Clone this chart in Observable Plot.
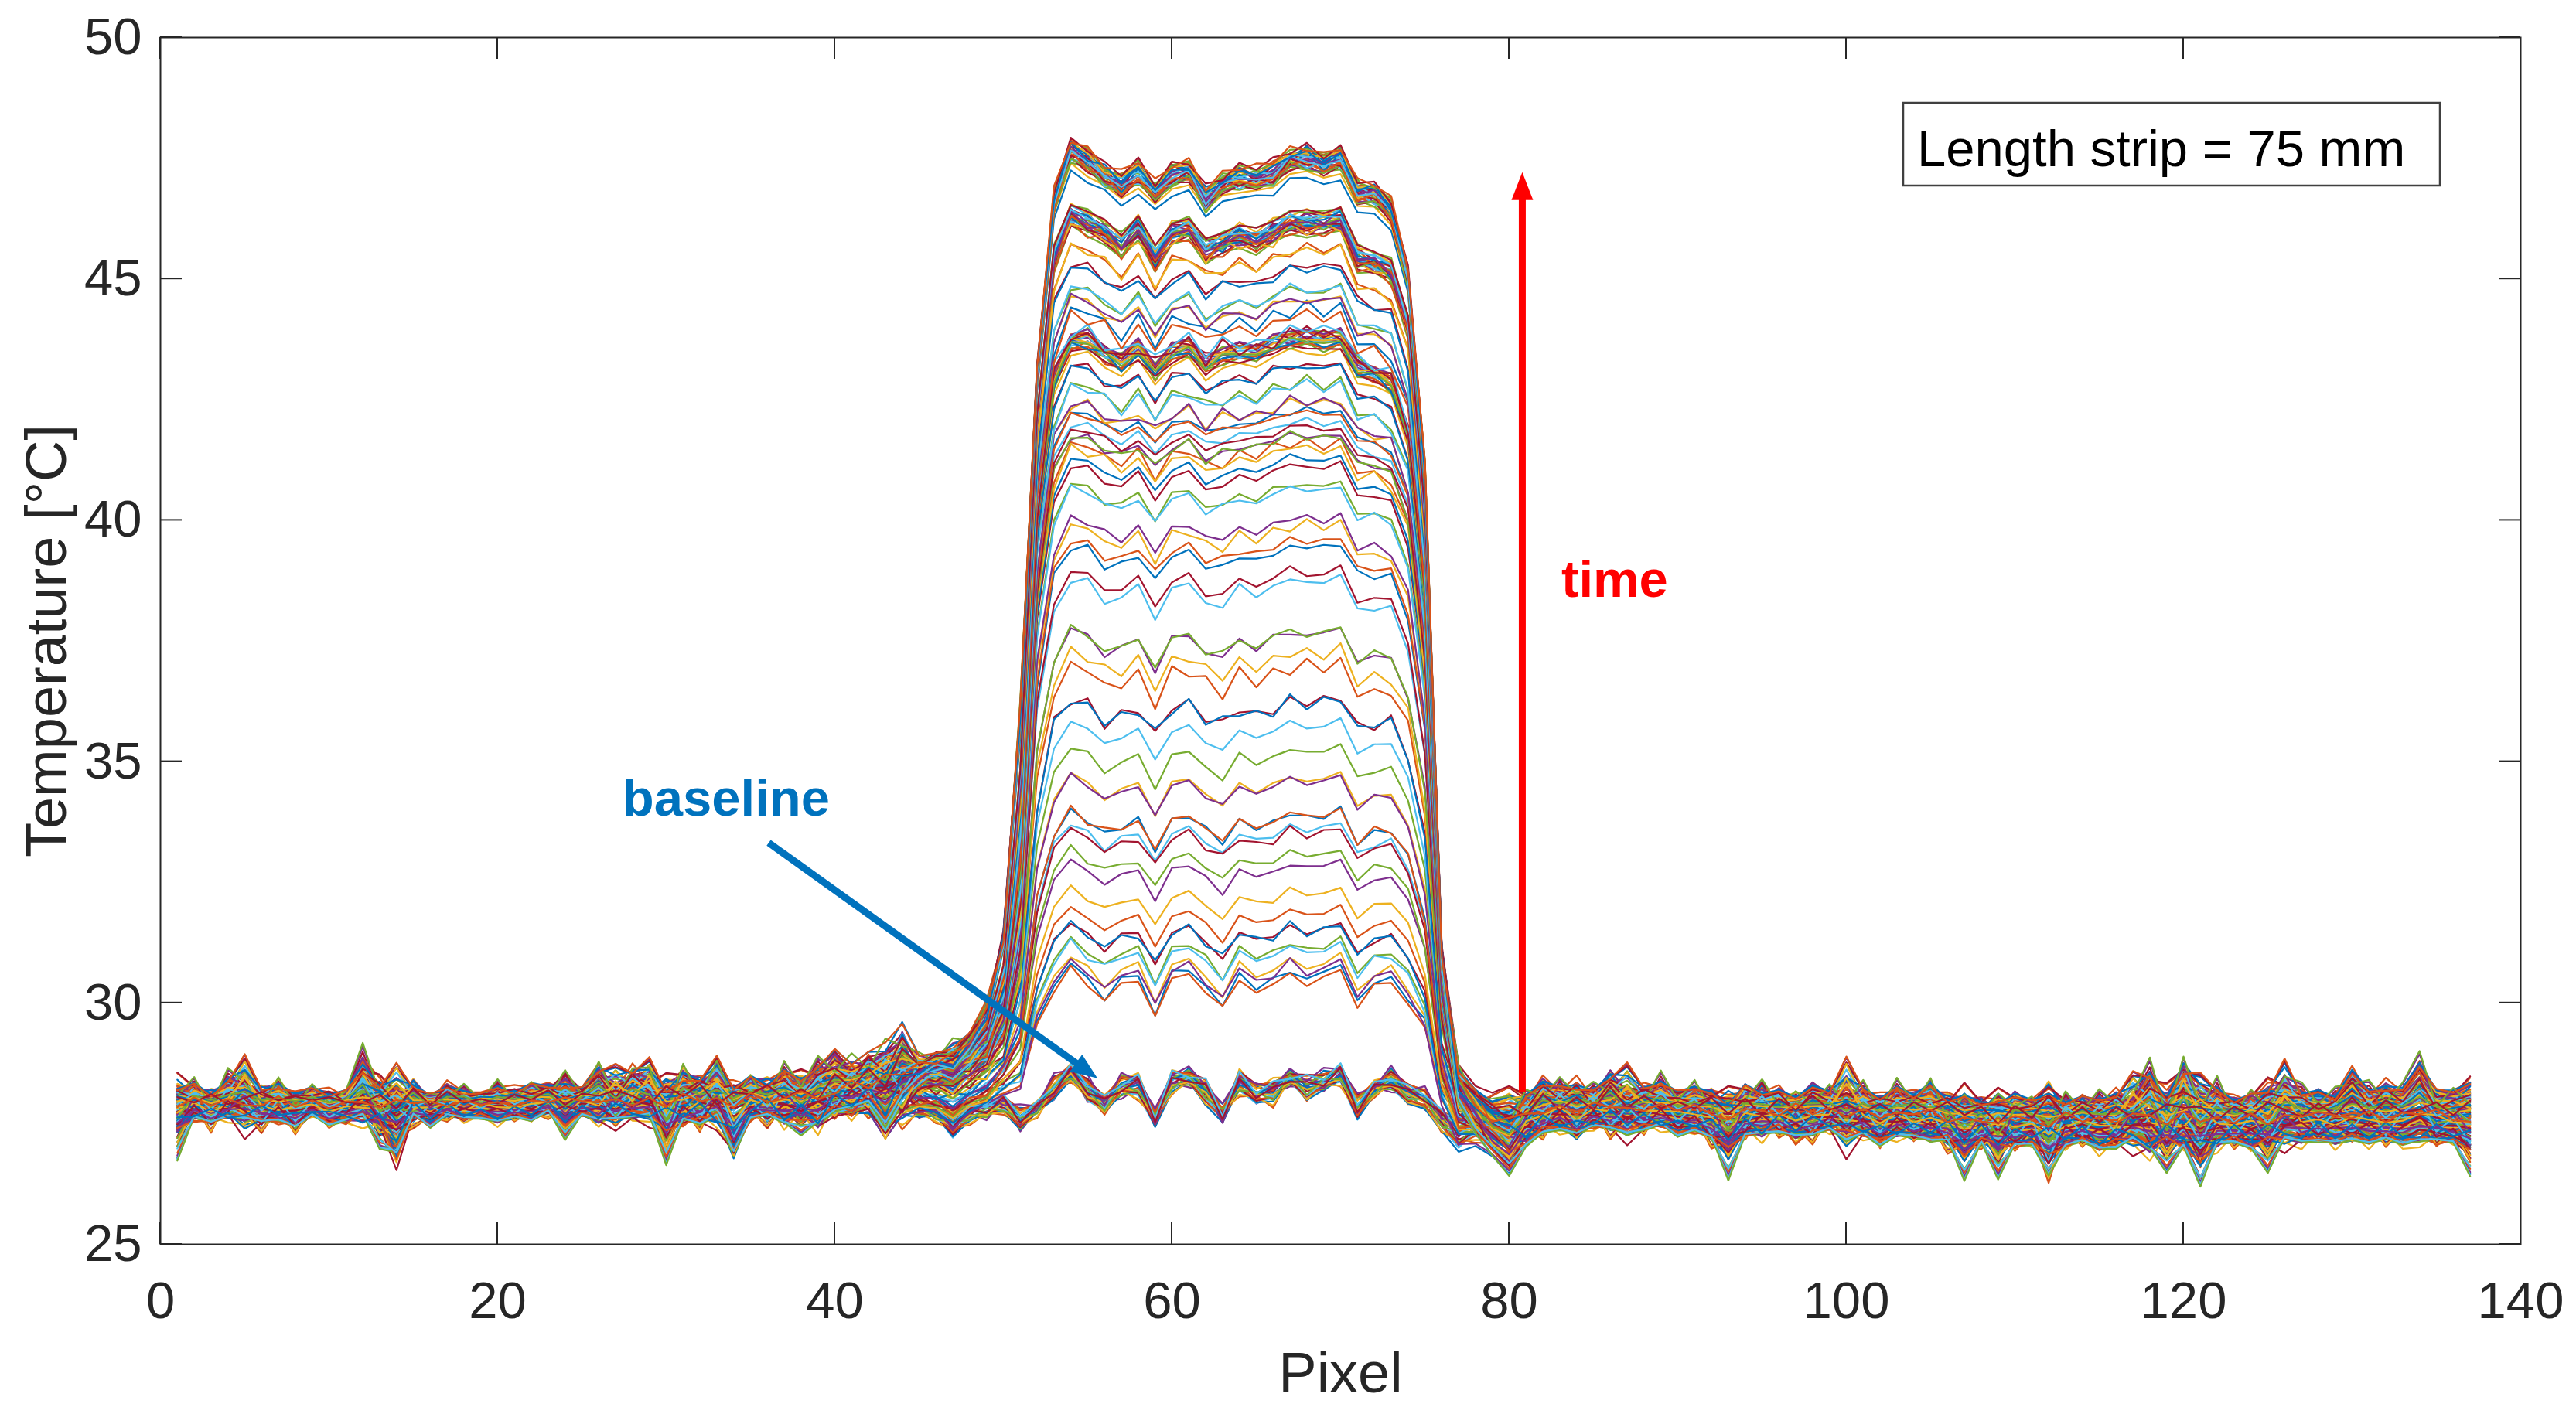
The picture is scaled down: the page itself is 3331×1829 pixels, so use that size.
<!DOCTYPE html>
<html>
<head>
<meta charset="utf-8">
<script src="https://cdn.jsdelivr.net/npm/d3@7"></script>
<script src="https://cdn.jsdelivr.net/npm/@observablehq/plot@0.6"></script>
<style>html,body{margin:0;padding:0;background:#fff;overflow:hidden}</style>
</head>
<body>
<div id="chart"></div>
<script>
// ---------- data ----------
const xTicks = [0, 20, 40, 60, 80, 100, 120, 140];
const yTicks = [25, 30, 35, 40, 45, 50];
const pixels = d3.range(1, 138); // pixel index 1..137

// centre of the background band (and baseline curve inside the heated zone), pixels 1..137
const bandCenter = [
  27.9, 27.95, 27.9, 27.95, 28.0, 27.9, 27.95, 27.9, 27.95, 27.9,
  27.9, 28.0, 27.95, 27.9, 27.95, 27.9, 27.95, 27.95, 27.95, 27.95,
  27.95, 27.95, 28.0, 27.95, 28.0, 28.0, 27.95, 28.0, 28.0, 27.9,
  28.0, 28.05, 28.0, 27.95, 28.05, 28.0, 28.05, 28.05, 28.1, 28.1,
  28.1, 28.1, 28.15, 28.1, 27.85, 27.71, 27.5, 27.71, 27.82, 27.92,
  27.6, 27.82, 28.24, 28.56, 28.19, 27.92, 28.29, 28.35, 27.6, 28.35,
  28.45, 28.19, 27.66, 28.35, 28.13, 28.19, 28.45, 28.24, 28.35, 28.56,
  27.82, 28.24, 28.4, 28.13, 28.03, 27.6, 27.34, 27.6, 27.55, 27.5,
  27.65, 27.8, 27.85, 27.8, 27.85, 27.9, 27.8, 27.85, 27.85, 27.8,
  27.8, 27.75, 27.7, 27.75, 27.8, 27.75, 27.8, 27.75, 27.8, 27.75,
  27.75, 27.7, 27.7, 27.75, 27.7, 27.65, 27.6, 27.6, 27.6, 27.6,
  27.6, 27.55, 27.65, 27.6, 27.6, 27.6, 27.65, 27.7, 27.6, 27.65,
  27.6, 27.6, 27.6, 27.65, 27.6, 27.65, 27.7, 27.65, 27.7, 27.7,
  27.7, 27.65, 27.7, 27.75, 27.7, 27.6, 27.6
];

// upper and lower strands of the noisy band (deviation from bandCenter), pixels 1..137
const devA = [
  0.3, 0.35, 0.2, 0.45, 0.3, 0.25, 0.4, 0.15, 0.3, 0.2,
  0.25, 0.75, 0.3, 0.2, 0.35, 0.15, 0.3, 0.25, 0.1, 0.3,
  0.2, 0.35, 0.25, 0.4, 0.2, 0.65, 0.3, 0.55, 0.35, 0.25,
  0.6, 0.3, 0.45, 0.25, 0.4, 0.3, 0.5, 0.35, 0.45, 0.75,
  0.4, 0.55, 0.35, 0.9, 0.2, 0.1, 0.25, 0.15, 0.2, 0.1,
  0.22, 0.12, 0.2, 0.15, 0.25, 0.1, 0.2, 0.15, 0.1, 0.25,
  0.15, 0.2, 0.1, 0.25, 0.15, 0.2, 0.1, 0.25, 0.2, 0.15,
  0.25, 0.1, 0.2, 0.15, 0.2, 0.1, 0.25, 0.25, 0.3, 0.45,
  0.4, 0.55, 0.35, 0.5, 0.3, 0.6, 0.4, 0.35, 0.5, 0.3,
  0.45, 0.35, 0.2, 0.5, 0.3, 0.4, 0.25, 0.5, 0.35, 0.3,
  0.45, 0.3, 0.5, 0.35, 0.6, 0.3, 0.45, 0.35, 0.25, 0.5,
  0.35, 0.55, 0.3, 0.4, 0.35, 0.5, 0.3, 0.8, 0.4, 1.1,
  0.45, 0.6, 0.35, 0.4, 0.55, 0.75, 0.4, 0.5, 0.35, 0.85,
  0.45, 0.6, 0.5, 0.95, 0.4, 0.55, 0.65
];
const devB = [
  -0.55, -0.3, -0.4, -0.25, -0.45, -0.35, -0.3, -0.5, -0.25, -0.4,
  -0.35, -0.3, -0.5, -1.05, -0.3, -0.4, -0.25, -0.35, -0.3, -0.4,
  -0.3, -0.35, -0.25, -0.4, -0.3, -0.45, -0.3, -0.35, -0.25, -0.6,
  -0.4, -0.5, -0.35, -1.1, -0.4, -0.3, -0.5, -0.35, -0.6, -0.3,
  -0.45, -0.35, -0.8, -0.5, -0.2, -0.12, -0.25, -0.15, -0.2, -0.1,
  -0.25, -0.15, -0.2, -0.12, -0.25, -0.1, -0.2, -0.3, -0.12, -0.2,
  -0.15, -0.25, -0.1, -0.2, -0.15, -0.25, -0.12, -0.2, -0.15, -0.25,
  -0.2, -0.1, -0.2, -0.15, -0.25, -0.2, -0.3, -0.35, -0.3, -0.45,
  -0.5, -0.45, -0.4, -0.55, -0.35, -0.5, -0.4, -0.45, -0.35, -0.5,
  -0.4, -0.55, -0.8, -0.45, -0.5, -0.35, -0.6, -0.45, -0.4, -0.5,
  -0.45, -0.6, -0.4, -0.55, -0.45, -0.5, -0.75, -0.45, -0.6, -0.55,
  -0.5, -0.8, -0.55, -0.45, -0.6, -0.5, -0.45, -0.7, -0.5, -0.55,
  -0.95, -0.5, -0.45, -0.6, -0.5, -0.45, -0.55, -0.4, -0.6, -0.5,
  -0.55, -0.45, -0.6, -0.5, -0.55, -0.45, -0.7
];
// zig-zag strands of the band, pixels 1..137
const devC = [
  -0.1, 0.2, -0.25, 0.3, 0.1, -0.3, 0.15, -0.2, 0.1, -0.15,
  0.05, 0.5, -0.1, 0.25, -0.3, 0.1, -0.2, 0.15, -0.05, 0.2,
  -0.15, 0.1, -0.2, 0.3, -0.1, 0.2, -0.25, 0.15, 0.35, -0.5,
  0.2, -0.3, 0.4, -0.2, 0.1, -0.35, 0.3, -0.1, 0.4, -0.25,
  0.3, -0.2, 0.5, -0.3, 0.1, -0.1, 0.15, -0.12, 0.08, -0.15,
  0.12, -0.08, 0.15, -0.1, 0.12, -0.15, 0.1, -0.12, 0.15, -0.08,
  0.12, -0.1, 0.2, -0.12, 0.08, -0.15, 0.12, -0.1, 0.15, -0.08,
  0.1, -0.12, 0.15, -0.1, 0.08, -0.12, 0.1, -0.2, -0.2, -0.4,
  0.2, -0.25, 0.3, -0.15, 0.25, -0.3, 0.15, -0.2, 0.3, -0.1,
  0.2, -0.3, 0.1, -0.2, 0.35, -0.25, 0.15, -0.3, 0.2, -0.1,
  0.25, -0.2, 0.3, -0.15, 0.2, -0.35, 0.1, -0.25, 0.3, -0.2,
  0.15, -0.6, 0.25, -0.2, 0.3, -0.15, 0.2, 0.45, -0.3, 0.25,
  -0.2, 0.35, -0.25, 0.2, -0.3, 0.15, 0.3, -0.2, 0.25, -0.15,
  0.3, -0.25, 0.2, 0.4, -0.2, 0.15, -0.3
];
const devD = [
  0.1, -0.15, 0.05, -0.1, 0.2, 0.05, -0.2, 0.1, -0.05, 0.15,
  -0.1, 0.1, 0.2, -0.15, 0.05, -0.1, 0.15, -0.05, 0.1, 0.0,
  0.15, -0.05, 0.1, -0.15, 0.05, 0.1, -0.1, 0.2, -0.05, 0.1,
  -0.2, 0.15, -0.05, 0.2, -0.15, 0.1, 0.05, -0.2, 0.15, 0.05,
  -0.15, 0.2, -0.1, 0.15, -0.1, 0.12, -0.08, 0.1, -0.12, 0.15,
  -0.1, 0.08, -0.12, 0.1, -0.08, 0.12, -0.15, 0.1, -0.08, 0.12,
  -0.1, 0.15, -0.08, 0.1, -0.12, 0.08, -0.1, 0.15, -0.08, 0.12,
  -0.1, 0.08, -0.12, 0.1, -0.08, 0.15, -0.1, 0.08, 0.1, -0.2,
  -0.1, 0.15, -0.05, 0.2, -0.15, 0.1, -0.05, 0.15, -0.1, 0.05,
  -0.15, 0.1, 0.2, -0.1, 0.05, 0.15, -0.2, 0.1, -0.05, 0.2,
  -0.1, 0.15, -0.05, 0.1, -0.15, 0.2, -0.05, 0.1, 0.15, -0.1,
  0.05, 0.2, -0.15, 0.1, -0.05, 0.15, -0.1, 0.05, 0.2, -0.15,
  0.1, -0.05, 0.15, -0.1, 0.2, -0.05, 0.1, -0.15, 0.05, 0.15,
  -0.1, 0.2, -0.05, 0.1, -0.15, 0.05, 0.1
];
const devE = [
  0.05, 0.1, 0.0, 0.05, 0.7, 0.1, -0.05, 0.15, 0.05, 0.0,
  0.1, -0.05, 0.05, 0.7, 0.0, 0.1, 0.05, -0.05, 0.1, 0.05,
  0.0, 0.1, 0.05, -0.05, 0.1, 0.05, 0.55, 0.1, 0.6, 0.05,
  -0.1, 0.1, 0.55, 0.05, 0.1, 0.0, 0.15, 0.05, 0.2, 0.3,
  0.1, 0.2, 0.45, 0.25, 0.04, 0.08, -0.04, 0.06, 0.1, -0.06,
  0.04, 0.08, -0.04, 0.12, 0.04, -0.06, 0.08, 0.04, -0.04, 0.1,
  0.06, -0.04, 0.08, 0.04, -0.06, 0.1, 0.04, -0.04, 0.08, 0.06,
  -0.04, 0.1, 0.04, -0.06, 0.08, 0.04, -0.04, 0.1, -0.4, -0.5,
  0.1, 0.05, 0.15, 0.0, 0.1, 0.05, 0.65, 0.1, 0.05, 0.15,
  0.05, 0.1, 0.0, 0.15, 0.05, 0.1, 0.0, 0.1, 0.05, 0.9,
  0.1, 0.05, 0.15, 0.0, 0.1, 0.05, 0.1, 0.0, 0.15, 0.05,
  0.1, 0.05, 0.0, 0.15, 0.1, 0.05, 0.7, 0.1, 0.05, 0.0,
  0.6, 0.1, 0.05, 0.15, 0.1, 0.6, 0.05, 0.1, 0.0, 0.15,
  0.1, 0.05, 0.1, 0.15, 0.2, 0.1, 0.2
];
const devF = [
  -0.7, -0.05, 0.0, -0.1, 0.05, -0.05, -0.15, 0.0, -0.05, -0.1,
  0.0, -0.05, -0.55, -0.1, 0.05, -0.15, -0.05, 0.0, -0.1, -0.05,
  -0.05, -0.1, 0.0, -0.45, -0.05, 0.0, -0.1, -0.05, -0.1, -0.75,
  -0.05, -0.15, 0.0, -0.05, -0.1, -0.05, -0.1, -0.5, -0.05, -0.15,
  -0.05, -0.1, -0.35, -0.05, -0.06, 0.04, -0.08, -0.04, 0.06, -0.1,
  -0.04, 0.04, -0.08, -0.06, 0.04, -0.1, -0.04, 0.06, -0.08, -0.04,
  0.04, -0.12, -0.06, 0.04, -0.08, -0.04, 0.06, -0.1, -0.04, 0.04,
  -0.08, -0.06, 0.04, -0.1, -0.04, -0.1, -0.2, -0.3, -0.5, -0.7,
  -0.2, -0.1, -0.15, 0.0, -0.1, -0.05, -0.2, -0.1, -0.05, -0.15,
  -0.1, -0.05, -0.7, -0.1, -0.05, -0.15, 0.0, -0.1, -0.05, -0.2,
  -0.05, -0.15, -0.1, 0.0, -0.2, -0.05, -0.65, -0.1, -0.75, -0.05,
  -0.1, -0.45, -0.15, -0.05, -0.1, -0.2, -0.05, -0.1, -0.7, -0.15,
  -0.6, -0.05, -0.1, -0.15, -0.7, -0.05, -0.1, -0.2, -0.05, -0.1,
  -0.15, -0.05, -0.1, -0.2, -0.05, -0.1, -0.6
];

// heated-zone profiles, pixels 40..80, read from the three dense clusters
const zoneStart = 40;
const topZone = [
  28.15, 28.3, 28.35, 28.45, 28.6, 28.7, 28.8, 28.9, 29.2, 29.8,
  31.3, 36.0, 43.0, 46.6, 47.62, 47.43, 47.11, 46.93, 47.2, 46.77,
  47.11, 47.19, 46.66, 46.93, 47.06, 47.06, 47.17, 47.43, 47.48, 47.32,
  47.48, 46.77, 46.72, 46.4, 45.0, 41.0, 31.0, 28.4, 27.9, 27.6,
  27.5
];
const secondZone = [
  28.12, 28.25, 28.3, 28.4, 28.5, 28.6, 28.7, 28.8, 29.0, 29.4,
  30.6, 34.5, 42.0, 45.4, 46.28, 46.12, 45.96, 45.64, 46.07, 45.38,
  45.91, 46.01, 45.59, 45.7, 45.86, 45.75, 45.96, 46.12, 46.12, 46.12,
  46.23, 45.38, 45.28, 45.12, 44.0, 40.0, 31.0, 28.4, 27.9, 27.6,
  27.5
];
const thirdZone = [
  28.1, 28.2, 28.25, 28.3, 28.4, 28.5, 28.55, 28.6, 28.8, 29.1,
  30.0, 32.8, 40.0, 42.9, 43.67, 43.72, 43.46, 43.25, 43.56, 43.09,
  43.46, 43.56, 43.25, 43.41, 43.46, 43.46, 43.67, 43.72, 43.78, 43.67,
  43.78, 43.14, 43.03, 42.82, 41.8, 38.5, 30.8, 28.3, 27.85, 27.55,
  27.5
];

// frames: baseline frames, then plateau levels (°C) of the heated frames
const baselineFrames = 28;
const plateauLevels = [
  30.25, 30.37, 30.57, 30.72, 30.96, 31.04, 31.28, 31.52, 31.68, 32.24,
  32.56, 33.04, 33.36, 33.43, 33.67, 33.83, 34.35, 34.47, 34.87, 35.59,
  35.9, 36.06, 36.54, 37.02, 37.26, 37.5, 38.37, 38.77, 39.09, 39.33,
  39.49, 39.85, 40.37, 40.53, 40.85, 41.16, 41.28, 41.42, 41.49, 41.63,
  41.71, 41.84, 41.93, 42.05, 42.17, 42.33, 42.49, 42.6, 42.76, 42.92,
  43.27, 43.3, 43.33, 43.35, 43.37, 43.39, 43.41, 43.43, 43.45, 43.46,
  43.48, 43.5, 43.52, 43.54, 43.56, 43.58, 43.6, 43.63, 43.66, 43.7,
  43.99, 44.1, 44.2, 44.36, 44.52, 44.68, 44.9, 45.0, 45.16, 45.32,
  45.64, 45.67, 45.7, 45.72, 45.74, 45.76, 45.78, 45.8, 45.81, 45.83,
  45.84, 45.85, 45.87, 45.88, 45.9, 45.91, 45.93, 45.95, 45.97, 45.99,
  46.01, 46.03, 46.06, 46.09, 46.12,
  46.88, 46.91, 46.93, 46.95, 46.97, 46.99, 47.0, 47.02, 47.03, 47.05,
  47.06, 47.07, 47.08, 47.09, 47.1, 47.11, 47.12, 47.13, 47.14, 47.16,
  47.17, 47.19, 47.2, 47.22, 47.24, 47.26, 47.28, 47.3, 47.33, 47.36
];
const blendWeights = [0.5, 0.85, 0.2, 0.65, 0.35, 1.0, 0.1, 0.75, 0.45, 0.9, 0.3, 0.6, 0.0, 0.8, 0.4];
const zigScales = [1, 0.6, -0.6, 0.85, -0.35, 0.45];
const lineColors = ["#0072BD", "#D95319", "#EDB120", "#7E2F8E", "#77AC30", "#4DBEEE", "#A2142F"];

// annotations (data units)
const timeArrow = {x1: 80.8, y1: 28.14, x2: 80.8, y2: 47.2};
const baselineArrow = {x1: 36.1, y1: 33.31, x2: 55.6, y2: 28.43};
const labels = [
  {x: 83.1, y: 38.75, text: "time", color: "#FF0000"},
  {x: 27.4, y: 34.22, text: "baseline", color: "#0072BD"}
];
const legendText = "Length strip = 75 mm";
const xTitle = "Pixel";
const yTitle = "Temperature [°C]";

// ---------- build the frames ----------
const FONT = "'Liberation Sans', Arial, Helvetica, sans-serif";
const offsetStrands = [devA, devB];
const zigStrands = [devC, devD, devE, devF];
const zoneLen = topZone.length;
const baseZone = bandCenter.slice(zoneStart - 1, zoneStart - 1 + zoneLen);
const plateauMean = p => d3.mean(p.slice(55 - zoneStart, 72 - zoneStart + 1));
const anchors = [baseZone, thirdZone, secondZone, topZone].map(p => ({p, L: plateauMean(p)}));

function zoneProfile(L) {
  if (L == null) return baseZone;
  const top = anchors[3];
  if (L >= top.L) {
    const s = (L - anchors[0].L) / (top.L - anchors[0].L);
    return baseZone.map((b, k) => b + (top.p[k] - b) * s);
  }
  let k = 0;
  while (k < 2 && L > anchors[k + 1].L) k++;
  const a = anchors[k], b = anchors[k + 1];
  const f = (L - a.L) / (b.L - a.L);
  return a.p.map((v, j) => v + (b.p[j] - v) * f);
}

const frameLevels = [...Array(baselineFrames).fill(null), ...plateauLevels];
const rows = [];
frameLevels.forEach((L, i) => {
  const zp = zoneProfile(L);
  const off = offsetStrands[i % 2];
  const w = blendWeights[i % blendWeights.length];
  const zig = zigStrands[Math.floor(i / 2) % 4];
  const zs = zigScales[Math.floor(i / 8) % zigScales.length];
  const color = lineColors[i % lineColors.length];
  pixels.forEach((px, j) => {
    const dev = w * off[j] + zs * zig[j];
    const k = px - zoneStart;
    const base = (k >= 0 && k < zoneLen) ? zp[k] : bandCenter[j];
    rows.push({frame: i, pixel: px, temp: base + dev, color});
  });
});

// ---------- plot ----------
const chart = Plot.plot({
  width: 3331,
  height: 1829,
  marginLeft: 207,
  marginRight: 72,
  marginTop: 48,
  marginBottom: 220,
  x: {domain: [0, 140], label: null},
  y: {domain: [25, 50], label: null},
  color: {type: "identity"},
  style: {fontFamily: FONT, color: "#262626", background: "#ffffff"},
  marks: [
    Plot.line(rows, {x: "pixel", y: "temp", z: "frame", stroke: "color", strokeWidth: 2.2, strokeLinejoin: "round"}),
    Plot.frame({stroke: "#262626", strokeWidth: 2}),
    Plot.axisX(xTicks, {tickSize: 0, tickPadding: 48, fontSize: 67, label: null, tickFormat: d => `${d}`}),
    Plot.axisY(yTicks, {tickSize: 0, tickPadding: 24, fontSize: 67, label: null, tickFormat: d => `${d}`}),
    Plot.text([xTitle], {text: d => d, frameAnchor: "bottom", textAnchor: "middle", lineAnchor: "middle", dy: 168, fontSize: 74, fill: "#262626"}),
    Plot.text([yTitle], {text: d => d, frameAnchor: "left", textAnchor: "middle", lineAnchor: "middle", dx: -146, rotate: -90, fontSize: 74, fill: "#262626"}),
    Plot.text(labels, {x: "x", y: "y", text: "text", fill: "color", textAnchor: "start", lineAnchor: "middle", fontWeight: "bold", fontSize: 67})
  ]
});
document.getElementById("chart").appendChild(chart);

// ---------- inward ticks, arrows and legend box, via the plot's own scales ----------
const svg = d3.select(chart);
const X = chart.scale("x"), Y = chart.scale("y");
const tickLen = 28;
const tg = svg.append("g").attr("stroke", "#262626").attr("stroke-width", 2);
const [xl, xr] = [X.apply(0), X.apply(140)];
const [yb, yt] = [Y.apply(25), Y.apply(50)];
for (const t of xTicks) {
  const x = X.apply(t);
  tg.append("line").attr("x1", x).attr("x2", x).attr("y1", yb).attr("y2", yb - tickLen);
  tg.append("line").attr("x1", x).attr("x2", x).attr("y1", yt).attr("y2", yt + tickLen);
}
for (const t of yTicks) {
  const y = Y.apply(t);
  tg.append("line").attr("x1", xl).attr("x2", xl + tickLen).attr("y1", y).attr("y2", y);
  tg.append("line").attr("x1", xr).attr("x2", xr - tickLen).attr("y1", y).attr("y2", y);
}

function drawArrow(a, color, width, headLen, headWidth) {
  const x1 = X.apply(a.x1), y1 = Y.apply(a.y1), x2 = X.apply(a.x2), y2 = Y.apply(a.y2);
  const dx = x2 - x1, dy = y2 - y1, len = Math.hypot(dx, dy);
  const ux = dx / len, uy = dy / len, nx = -uy, ny = ux;
  const bx = x2 - ux * headLen, by = y2 - uy * headLen;
  const g = svg.append("g");
  g.append("line").attr("x1", x1).attr("y1", y1).attr("x2", bx + ux * 2).attr("y2", by + uy * 2)
    .attr("stroke", color).attr("stroke-width", width);
  g.append("path")
    .attr("d", `M${x2},${y2}L${bx + nx * headWidth / 2},${by + ny * headWidth / 2}L${bx - nx * headWidth / 2},${by - ny * headWidth / 2}Z`)
    .attr("fill", color);
}
drawArrow(timeArrow, "#FF0000", 9, 36, 28);
drawArrow(baselineArrow, "#0072BD", 9, 34, 27);

const lg = svg.append("g");
const boxW = 694, boxH = 107;
const bx0 = xr - 104 - boxW, by0 = yt + 85;
lg.append("rect").attr("x", bx0).attr("y", by0).attr("width", boxW).attr("height", boxH)
  .attr("fill", "#fff").attr("stroke", "#404040").attr("stroke-width", 2.5);
lg.append("text").attr("x", bx0 + 18).attr("y", by0 + 82).attr("text-anchor", "start")
  .attr("font-family", FONT).attr("font-size", 67).attr("fill", "#000").text(legendText);
</script>
</body>
</html>
